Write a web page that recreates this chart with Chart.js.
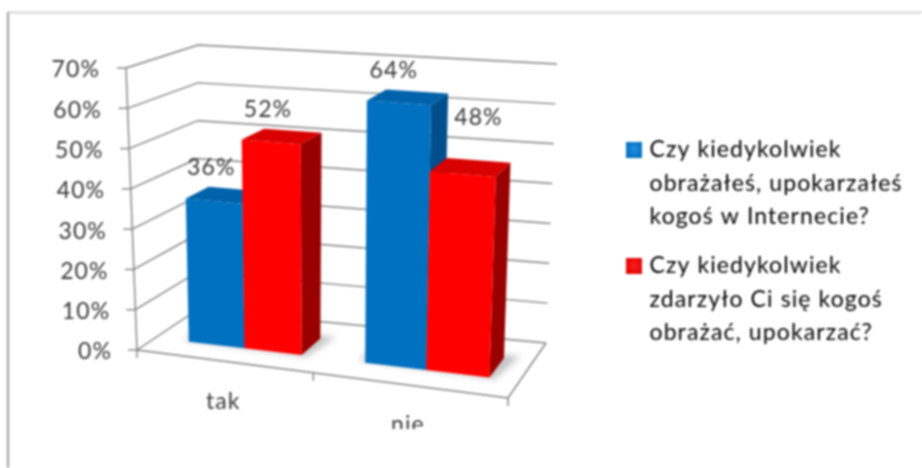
<!DOCTYPE html>
<html><head><meta charset="utf-8">
<style>html,body{margin:0;padding:0;background:#fff;overflow:hidden}canvas{display:block;filter:blur(.85px)}</style>
<script src="https://cdn.jsdelivr.net/npm/chart.js@4"></script>
</head><body><canvas id="c" width="922" height="468"></canvas>
<script>
const categories = ['tak', 'nie'];
const seriesAName = 'Czy kiedykolwiek\nobrażałeś, upokarzałeś\nkogoś w Internecie?';
const seriesBName = 'Czy kiedykolwiek\nzdarzyło Ci się kogoś\nobrażać, upokarzać?';
const seriesA = [36, 64];
const seriesB = [52, 48];
const yTicks = [0, 10, 20, 30, 40, 50, 60, 70];

const FONT = 'Lato, Carlito, sans-serif';
const TXT = '#383838', LINE = '#808080';
const SPACING = '1.1px';

function quad(p){ // unit square -> quad, blended with a bilinear map to soften the perspective
  const [a,b,c,d]=p;
  const dx1=b[0]-c[0],dx2=d[0]-c[0],sx=a[0]-b[0]+c[0]-d[0];
  const dy1=b[1]-c[1],dy2=d[1]-c[1],sy=a[1]-b[1]+c[1]-d[1];
  const den=dx1*dy2-dx2*dy1;
  const g=(sx*dy2-dx2*sy)/den,h=(dx1*sy-sx*dy1)/den;
  const A=b[0]-a[0]+g*b[0],B=d[0]-a[0]+h*d[0],C=a[0];
  const D=b[1]-a[1]+g*b[1],E=d[1]-a[1]+h*d[1],F=a[1];
  return (u,w)=>{const k=g*u+h*w+1;
    const hx=(A*u+B*w+C)/k,hy=(D*u+E*w+F)/k;
    const lx=(a[0]*(1-u)+b[0]*u)*(1-w)+(d[0]*(1-u)+c[0]*u)*w;
    const ly=(a[1]*(1-u)+b[1]*u)*(1-w)+(d[1]*(1-u)+c[1]*u)*w;
    return [.4*hx+.6*lx,.4*hy+.6*ly];};
}
const floorPlane = quad([[137,350],[508,398],[546,343],[197,310]]);
const roofPlane  = quad([[126,68],[519,98],[557,64],[198,45]]);
function P(u,v,d){const a=floorPlane(u,d),b=roofPlane(u,d);return [a[0]+(b[0]-a[0])*v,a[1]+(b[1]-a[1])*v];}
const D0=.30,D1=.66,USHIFT=.012;
const norm=(chart,x,y)=>{const s=chart.scales,ca=chart.chartArea;
  return [(x-ca.left)/(ca.right-ca.left)+USHIFT,(s.y.getPixelForValue(0)-y)/(s.y.getPixelForValue(0)-s.y.getPixelForValue(70))];};
function poly(ctx,pts,fill){ctx.beginPath();pts.forEach((p,i)=>i?ctx.lineTo(p[0],p[1]):ctx.moveTo(p[0],p[1]));ctx.closePath();ctx.fillStyle=fill;ctx.fill();}
function line(ctx,pts){ctx.beginPath();pts.forEach((p,i)=>i?ctx.lineTo(p[0],p[1]):ctx.moveTo(p[0],p[1]));ctx.stroke();}
const faces=[{front:'#0070c0',top:'#0062aa',side:'#004f8c'},{front:'#ff0000',top:'#d80000',side:'#990000'}];

function swatch(edge,mid){
  const c=document.createElement('canvas');c.width=16;c.height=16;
  const x=c.getContext('2d'),g=x.createRadialGradient(8,7,1,8,8,11);
  g.addColorStop(0,mid);g.addColorStop(1,edge);x.fillStyle=g;x.fillRect(0,0,16,16);return c;
}
const swatches=[swatch('#0068b4','#1f8ae0'),swatch('#d80000','#ff1a1a')];

const view3d={
  id:'view3d',
  afterLayout(chart){
    const sy=chart.scales.y,sx=chart.scales.x,ca=chart.chartArea;
    sy.getLabelItems(ca).forEach((it,i)=>{
      const v=sy.ticks[i].value/70;
      it.options.translation[0]=112-12*v;
      it.options.translation[1]=sy.getPixelForValue(sy.ticks[i].value)+2;
      it.options.textAlign='right';
    });
    sx.getLabelItems(ca).forEach((it,i)=>{
      const u=(sx.getPixelForTick(i)-ca.left)/(ca.right-ca.left);
      const p=P(u,0,0);
      it.options.translation=[p[0],p[1]+40];
      it.options.textAlign='center';it.options.textBaseline='middle';it.textOffset=0;
    });
    const lg=chart.legend;const h=lg.bottom-lg.top;
    lg.left=614.5;lg.right=922;lg.width=lg.right-lg.left;lg.top=123;lg.bottom=lg.top+h+40;lg.height=h+40;
  },
  beforeDraw(chart){chart.ctx.letterSpacing=SPACING;},
  beforeDatasetsDraw(chart){
    const ctx=chart.ctx,sy=chart.scales.y;
    ctx.save();
    ctx.strokeStyle='#d4d4d4';ctx.lineWidth=2;line(ctx,[[8,12.5],[922,12.5]]);
    ctx.strokeStyle='#a0a0a0';ctx.lineWidth=2;line(ctx,[[8,12],[8,468]]);
    ctx.strokeStyle=LINE;ctx.lineWidth=1.4;
    sy.ticks.forEach(t=>{const v=t.value/70;
      line(ctx,[P(0,v,0),P(0,v,1),P(1,v,1)]);
      const a=P(0,v,0);line(ctx,[[a[0]-9,a[1]],a]);});
    line(ctx,[P(0,0,0),P(0,1,0)]);
    line(ctx,[P(0,0,0),P(1,0,0),P(1,0,1)]);
    [0,.5,1].forEach(u=>{const a=P(u,0,0);line(ctx,[a,[a[0],a[1]+8]]);});
    ctx.filter='blur(3px)';
    chart.data.labels.forEach((_,i)=>{
      const a=chart.getDatasetMeta(0).data[i],b=chart.getDatasetMeta(1).data[i];
      const u0=norm(chart,a.x-a.width/2,0)[0],u1=norm(chart,b.x+b.width/2,0)[0];
      poly(ctx,[P(u0-.02,0,D0+.03),P(u1+.015,0,D0-.02),P(u1+.035,0,D1+.06),P(u0-.02,0,D1)],'#c4c4c4');
    });
    ctx.filter='none';
    ctx.restore();
  },
  beforeDatasetDraw(){return false;},
  afterDatasetsDraw(chart){
    const ctx=chart.ctx;ctx.save();
    chart.data.datasets.forEach((ds,di)=>{
      const f=faces[di];
      chart.getDatasetMeta(di).data.forEach(el=>{
        const [u0,v]=norm(chart,el.x-el.width/2,el.y);
        const u1=norm(chart,el.x+el.width/2,el.y)[0];
        poly(ctx,[P(u0,v,D0),P(u1,v,D0),P(u1,v,D1),P(u0,v,D1)],f.top);
        poly(ctx,[P(u1,0,D0),P(u1,0,D1),P(u1,v,D1),P(u1,v,D0)],f.side);
        poly(ctx,[P(u0,0,D0),P(u1,0,D0),P(u1,v,D0),P(u0,v,D0)],f.front);
      });
    });
    ctx.font='23px '+FONT;ctx.fillStyle=TXT;ctx.textAlign='center';ctx.textBaseline='middle';
    chart.data.datasets.forEach((ds,di)=>{
      chart.getDatasetMeta(di).data.forEach((el,i)=>{
        const [u0,v]=norm(chart,el.x-el.width/2,el.y);const u1=norm(chart,el.x+el.width/2,el.y)[0];
        const p=P((u0+u1)/2,v,(D0+D1)/2);
        const nudge=(di===1&&i===1)?[8,-50]:[-14,-27];
        ctx.fillText(ds.data[i]+'%',p[0]+nudge[0],p[1]+nudge[1]);
      });
    });
    ctx.restore();
  },
  afterDraw(chart){
    const ctx=chart.ctx;ctx.save();ctx.fillStyle='#fff';ctx.fillRect(370,429,80,24);ctx.restore();
  }
};

new Chart(document.getElementById('c'),{
  type:'bar',
  data:{labels:categories,datasets:[
    {label:seriesAName,data:seriesA,backgroundColor:'#0070c0',barPercentage:1,categoryPercentage:.65},
    {label:seriesBName,data:seriesB,backgroundColor:'#ff0000',barPercentage:1,categoryPercentage:.65}
  ]},
  plugins:[view3d],
  options:{
    responsive:false,animation:false,devicePixelRatio:1,
    layout:{padding:{top:68,left:8,right:60,bottom:0}},
    plugins:{
      tooltip:{enabled:false},
      legend:{position:'right',align:'start',
        labels:{boxWidth:16,boxHeight:16,padding:15.5,usePointStyle:true,pointStyleWidth:8,color:TXT,font:{family:FONT,size:23,lineHeight:1.457},
          generateLabels(chart){return chart.data.datasets.map((d,i)=>({text:d.label.split('\n'),fillStyle:d.backgroundColor,strokeStyle:d.backgroundColor,lineWidth:0,pointStyle:swatches[i],datasetIndex:i,hidden:false}));}}
      }
    },
    scales:{
      x:{grid:{display:false},border:{display:false},ticks:{color:TXT,font:{family:FONT,size:23}},
        afterFit(s){s.height=118;}},
      y:{min:0,max:70,grid:{display:false},border:{display:false},
        afterBuildTicks(s){s.ticks=yTicks.map(v=>({value:v}));},
        ticks:{color:TXT,font:{family:FONT,size:23},callback:v=>v+'%'},
        afterFit(s){s.width=129;}}
    }
  }
});
</script></body></html>
